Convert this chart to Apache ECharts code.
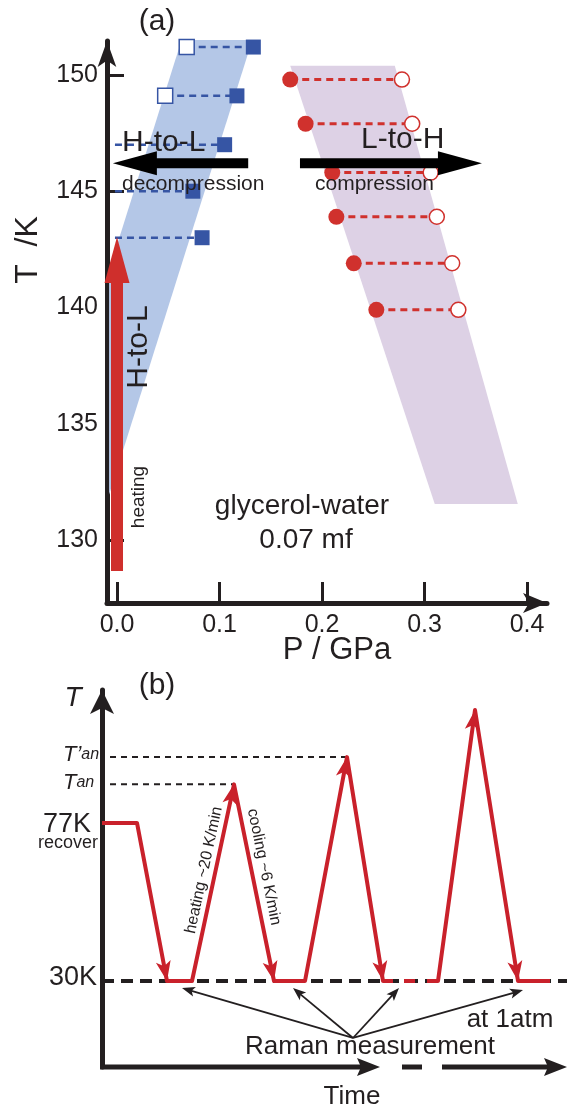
<!DOCTYPE html>
<html>
<head>
<meta charset="utf-8">
<script src="https://cdn.jsdelivr.net/npm/echarts@6/dist/echarts.min.js"></script>
<style>
html,body{margin:0;padding:0;background:#fff;}
#chart{width:568px;height:1108px;}
</style>
</head>
<body>
<div id="chart"></div>
<script>
// ---------- panel (a): P-T diagram ----------
var pTicks = [0.0, 0.1, 0.2, 0.3, 0.4];
var tTicks = [130, 135, 140, 145, 150];

// H-to-L (decompression) : blue squares
var hlT      = [151.2, 149.1, 147.0, 145.0, 143.0];
var hlFilled = [0.133, 0.117, 0.105, 0.074, 0.083];
var hlOpen   = [0.068, 0.047, null, null, null];
var hlStart  = [0.068, 0.047, -0.002, -0.002, -0.002];

// L-to-H (compression) : red circles
var lhT      = [149.8, 147.9, 145.8, 143.9, 141.9, 139.9];
var lhFilled = [0.169, 0.184, 0.210, 0.214, 0.231, 0.253];
var lhOpen   = [0.278, 0.288, 0.306, 0.312, 0.327, 0.333];

// shaded transition bands [P, T]
var blueBand   = [[0.063, 151.5], [0.132, 151.5], [-0.041, 127.3], [-0.110, 127.3]];
var purpleBand = [[0.169, 150.4], [0.271, 150.4], [0.391, 131.55], [0.310, 131.55]];

// big arrows [P1, T1, P2, T2]
var pressArrows = [[0.128, 146.2, -0.004, 146.2], [0.1785, 146.2, 0.356, 146.2]];
var heatArrow   = [[0.0, 128.67, 0.0, 143.03]];

// ---------- panel (b): temperature protocol ----------
var timeB1 = [0, 3.5, 6.5, 9.0, 13.2, 17.2, 20.3, 24.5, 28.1, 29.1];
var tempB1 = [77, 77, 30, 30, 88.5, 30, 30, 96.6, 30, 30];
var timeB2 = [32.5, 33.6, 37.3, 41.6, 44.8];
var tempB2 = [30, 30, 110.6, 30, 30];
var breakB = [[30.2, 30, 31.3, 30]];
var annealLines = [[0.8, 88.5, 13.2, 88.5], [0.8, 96.6, 24.5, 96.6]];
var ramanFrom = [25.1, 13.05];
var ramanTo = [[8.0, 27.9], [19.1, 27.9], [29.7, 27.9], [42.1, 27.3]];

var pMin = -0.00976, pMax = 0.4195, tMin = 127.29, tMax = 151.46;
var bxMin = 0, bxMax = 46.5, byMin = 4.42, byMax = 116.56;

var FONT = '"Liberation Sans", Arial, Helvetica, sans-serif';
var INK = '#231f20';
var BLUE = '#3655a4', RED = '#d0312d', RED_B = '#c9212b';

function clipLeft(poly, xmin) {
  var out = [];
  for (var i = 0; i < poly.length; i++) {
    var p = poly[i], q = poly[(i + 1) % poly.length];
    var pin = p[0] >= xmin, qin = q[0] >= xmin;
    if (pin) out.push(p);
    if (pin !== qin) {
      var t = (xmin - p[0]) / (q[0] - p[0]);
      out.push([xmin, p[1] + t * (q[1] - p[1])]);
    }
  }
  return out;
}

function bandRender(poly, color) {
  return function (params, api) {
    return {
      type: 'polygon',
      shape: {points: poly.map(function (p) { return api.coord(p); })},
      style: {fill: color}
    };
  };
}

function segRender(color, width, dash) {
  return function (params, api) {
    var a = api.coord([api.value(0), api.value(1)]);
    var b = api.coord([api.value(2), api.value(3)]);
    return {
      type: 'line',
      shape: {x1: a[0], y1: a[1], x2: b[0], y2: b[1]},
      style: {stroke: color, lineWidth: width, lineDash: dash || null}
    };
  };
}

function arrowRender(color, shaft, headLen, headW, notch) {
  return function (params, api) {
    var a = api.coord([api.value(0), api.value(1)]);
    var b = api.coord([api.value(2), api.value(3)]);
    var dx = b[0] - a[0], dy = b[1] - a[1];
    var len = Math.sqrt(dx * dx + dy * dy);
    var ux = dx / len, uy = dy / len, nx = -uy, ny = ux;
    var bx = b[0] - ux * headLen, by = b[1] - uy * headLen;
    var kids = [];
    if (shaft > 0) {
      kids.push({type: 'line',
        shape: {x1: a[0], y1: a[1], x2: bx + ux * (notch + 1), y2: by + uy * (notch + 1)},
        style: {stroke: color, lineWidth: shaft}});
    }
    kids.push({type: 'polygon',
      shape: {points: [b, [bx + nx * headW / 2, by + ny * headW / 2],
        [bx + ux * notch, by + uy * notch], [bx - nx * headW / 2, by - ny * headW / 2]]},
      style: {fill: color}});
    return {type: 'group', children: kids};
  };
}

function zip(xs, ys) {
  var out = [];
  xs.forEach(function (x, i) { if (x !== null) out.push([x, ys[i]]); });
  return out;
}

var hlSegs = hlT.map(function (t, i) { return [hlStart[i], t, hlFilled[i], t]; });
var lhSegs = lhT.map(function (t, i) { return [lhFilled[i], t, lhOpen[i], t]; });

// arrowheads on each heating / cooling leg of the protocol
function legs(ts, Ts) {
  var out = [];
  for (var i = 1; i < ts.length; i++) {
    if (Ts[i] !== Ts[i - 1]) out.push([ts[i - 1], Ts[i - 1], ts[i], Ts[i]]);
  }
  return out;
}
var heads = legs(timeB1, tempB1).concat(legs(timeB2, tempB2));
var ramanArrows = ramanTo.map(function (p) { return [ramanFrom[0], ramanFrom[1], p[0], p[1]]; });
var timeAxisArrows = [[-0.2, byMin, 27.8, byMin], [34.0, byMin, 46.5, byMin]];
var timeAxisGap = [[30.0, byMin, 32.0, byMin]];

var axisText = {color: INK, fontFamily: FONT, fontSize: 25};
var seg4 = {x: [0, 2], y: [1, 3]};

function txt(text, x, y, size, opt) {
  opt = opt || {};
  return {
    type: 'text', x: x, y: y, rotation: opt.rot || 0, z: 100,
    style: {
      text: text, fill: INK,
      font: (opt.italic ? 'italic ' : '') + size + 'px ' + FONT,
      align: opt.align || 'center', textAlign: opt.align || 'center',
      verticalAlign: 'middle', textVerticalAlign: 'middle'
    }
  };
}
function tanLabel(prime, y) {
  return {
    type: 'text', x: 63, y: y, z: 100,
    style: {
      text: '{a|T' + prime + '}{b|an}',
      verticalAlign: 'middle', textVerticalAlign: 'middle',
      rich: {
        a: {font: 'italic 22px ' + FONT, fill: INK},
        b: {font: 'italic 16px ' + FONT, fill: INK}
      }
    }
  };
}

var chart = echarts.init(document.getElementById('chart'));
chart.setOption({
  animation: false,
  backgroundColor: '#fff',
  grid: [
    {left: 107, top: 41, width: 440, height: 562},
    {left: 102, top: 690, width: 465, height: 377}
  ],
  xAxis: [
    {
      type: 'value', gridIndex: 0, min: pMin, max: pMax,
      axisLine: {onZero: false, lineStyle: {color: INK, width: 5}, symbol: ['none', 'arrow'], symbolSize: [15, 24]},
      axisTick: {inside: true, length: 21, customValues: pTicks, lineStyle: {color: INK, width: 3}},
      axisLabel: Object.assign({customValues: pTicks, margin: 10, formatter: function (v) { return v.toFixed(1); }}, axisText),
      splitLine: {show: false}
    },
    {
      type: 'value', gridIndex: 1, min: bxMin, max: bxMax, show: false
    }
  ],
  yAxis: [
    {
      type: 'value', gridIndex: 0, min: tMin, max: tMax,
      axisLine: {onZero: false, lineStyle: {color: INK, width: 5}, symbol: ['none', 'arrow'], symbolSize: [14, 26]},
      axisTick: {inside: true, length: 17, customValues: tTicks, lineStyle: {color: INK, width: 3}},
      axisLabel: Object.assign({customValues: tTicks, margin: 9}, axisText),
      splitLine: {show: false}
    },
    {
      type: 'value', gridIndex: 1, min: byMin, max: byMax,
      axisLine: {onZero: false, lineStyle: {color: INK, width: 5}, symbol: ['none', 'arrow'], symbolSize: [18, 24]},
      axisTick: {show: false}, axisLabel: {show: false}, splitLine: {show: false}
    }
  ],
  series: [
    {type: 'custom', xAxisIndex: 0, yAxisIndex: 0, data: [blueBand[0]], z: 1,
      renderItem: bandRender(clipLeft(blueBand, pMin + 0.002), '#b4c7e7')},
    {type: 'custom', xAxisIndex: 0, yAxisIndex: 0, data: [purpleBand[0]], z: 1,
      renderItem: bandRender(purpleBand, '#ddd1e5')},
    {type: 'custom', xAxisIndex: 0, yAxisIndex: 0, data: hlSegs, encode: seg4, z: 2,
      renderItem: segRender(BLUE, 2.5, [7, 5])},
    {type: 'custom', xAxisIndex: 0, yAxisIndex: 0, data: lhSegs, encode: seg4, z: 2,
      renderItem: segRender(RED, 3, [7, 5])},
    {type: 'scatter', xAxisIndex: 0, yAxisIndex: 0, data: zip(hlOpen, hlT), symbol: 'rect', symbolSize: 15, z: 3,
      itemStyle: {color: '#fff', borderColor: BLUE, borderWidth: 1.5, opacity: 1}},
    {type: 'scatter', xAxisIndex: 0, yAxisIndex: 0, data: zip(hlFilled, hlT), symbol: 'rect', symbolSize: 15, z: 3,
      itemStyle: {color: BLUE, opacity: 1}},
    {type: 'scatter', xAxisIndex: 0, yAxisIndex: 0, data: zip(lhFilled, lhT), symbol: 'circle', symbolSize: 16, z: 3,
      itemStyle: {color: RED, opacity: 1}},
    {type: 'scatter', xAxisIndex: 0, yAxisIndex: 0, data: zip(lhOpen, lhT), symbol: 'circle', symbolSize: 15, z: 3,
      itemStyle: {color: '#fff', borderColor: RED, borderWidth: 1.5, opacity: 1}},
    {type: 'custom', xAxisIndex: 0, yAxisIndex: 0, data: pressArrows, encode: seg4, z: 4,
      renderItem: arrowRender('#000', 10, 44, 24, 0)},
    {type: 'custom', xAxisIndex: 0, yAxisIndex: 0, data: heatArrow, encode: seg4, z: 4,
      renderItem: arrowRender('#cf2f2c', 12, 46, 25, 0)},

    // panel (b)
    {type: 'line', xAxisIndex: 1, yAxisIndex: 1, data: [[bxMin, 30], [bxMax, 30]], symbol: 'none', z: 2,
      lineStyle: {color: INK, width: 4, type: [12, 7]}},
    {type: 'custom', xAxisIndex: 1, yAxisIndex: 1, data: annealLines, encode: seg4, z: 2,
      renderItem: segRender(INK, 2, [6, 5])},
    {type: 'line', xAxisIndex: 1, yAxisIndex: 1, data: zip(timeB1, tempB1), symbol: 'none', z: 3,
      lineStyle: {color: RED_B, width: 4, join: 'round'}},
    {type: 'line', xAxisIndex: 1, yAxisIndex: 1, data: zip(timeB2, tempB2), symbol: 'none', z: 3,
      lineStyle: {color: RED_B, width: 4, join: 'round'}},
    {type: 'custom', xAxisIndex: 1, yAxisIndex: 1, data: breakB, encode: seg4, z: 3,
      renderItem: segRender(RED_B, 4)},
    {type: 'custom', xAxisIndex: 1, yAxisIndex: 1, data: heads, encode: seg4, z: 4,
      renderItem: arrowRender(RED_B, 0, 20, 15, 5)},
    {type: 'custom', xAxisIndex: 1, yAxisIndex: 1, data: ramanArrows, encode: seg4, z: 4,
      renderItem: arrowRender(INK, 1.8, 13, 10, 3)},
    {type: 'custom', xAxisIndex: 1, yAxisIndex: 1, data: timeAxisArrows, encode: seg4, z: 4,
      renderItem: arrowRender(INK, 5, 23, 18, 4)},
    {type: 'custom', xAxisIndex: 1, yAxisIndex: 1, data: timeAxisGap, encode: seg4, z: 4,
      renderItem: segRender(INK, 5)}
  ],
  graphic: [
    txt('(a)', 157, 22, 30),
    txt('T  /K', 28, 250, 32, {rot: Math.PI / 2}),
    txt('P / GPa', 337, 650, 31),
    txt('H-to-L', 122, 143, 30, {align: 'left'}),
    txt('decompression', 122, 184, 21, {align: 'left'}),
    txt('L-to-H', 361, 140, 30, {align: 'left'}),
    txt('compression', 315, 184, 21, {align: 'left'}),
    txt('H-to-L', 139, 347, 30, {rot: Math.PI / 2}),
    txt('heating', 139, 497, 19, {rot: Math.PI / 2}),
    txt('glycerol-water', 302, 506, 28),
    txt('0.07 mf', 306, 540, 28),

    txt('(b)', 157, 686, 30),
    txt('T', 73, 698, 28, {italic: true}),
    tanLabel('\u2019', 755),
    tanLabel('', 783),
    txt('77K', 91, 825, 27, {align: 'right'}),
    txt('recover', 98, 843, 18, {align: 'right'}),
    txt('30K', 97, 978, 27, {align: 'right'}),
    txt('heating ~20 K/min', 204, 870, 16, {rot: 77.8 * Math.PI / 180}),
    txt('cooling ~6 K/min', 264, 867, 16, {rot: -78.4 * Math.PI / 180}),
    txt('at 1atm', 510, 1020, 26),
    txt('Raman measurement', 370, 1047, 26),
    txt('Time', 352, 1097, 26)
  ]
});
</script>
</body>
</html>
